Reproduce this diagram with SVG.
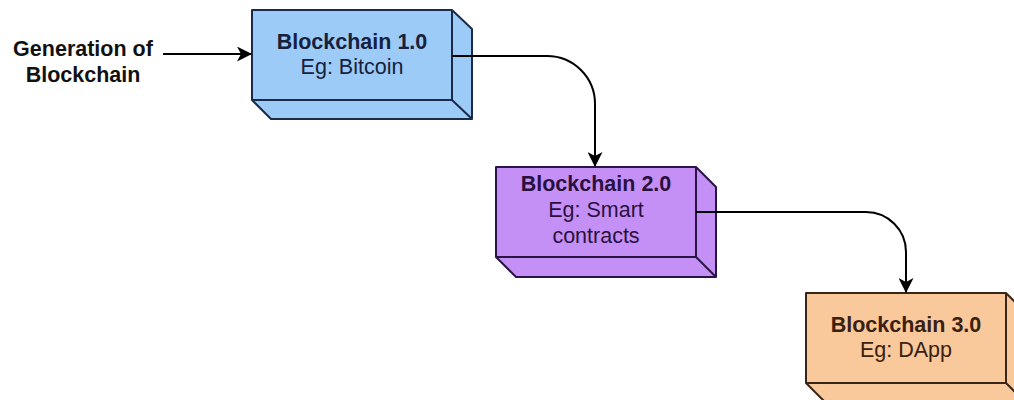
<svg xmlns="http://www.w3.org/2000/svg" width="1014" height="400" viewBox="0 0 1014 400">
  <style>
    text { font-family: "Liberation Sans", Arial, sans-serif; font-size: 21.5px; text-anchor: middle; }
    .b { font-weight: bold; }
    .edge { fill: none; stroke: #000; stroke-width: 2; }
    .box { stroke-width: 2; stroke-linejoin: round; }
  </style>
  <defs>
    <marker id="arr" viewBox="0 0 15 15" refX="14" refY="7.5" markerWidth="15" markerHeight="15" markerUnits="userSpaceOnUse" orient="auto">
      <path d="M0,0 L15,7.5 L0,15 L4,7.5 Z" fill="#000"/>
    </marker>
  </defs>
  <rect width="1014" height="400" fill="#fff"/>

  <g id="label-generation">
    <text class="b" x="83" y="56" fill="#111">Generation of</text>
    <text class="b" x="83" y="82" fill="#111">Blockchain</text>
  </g>

  <g id="node-bc1">
    <polygon class="box" points="252,10 452,10 472,29 472,119 271,119 252,100" fill="#9dcbf7" stroke="#1b2a48"/>
    <path class="box" d="M252,100 H452 V10 M452,100 L472,119" fill="none" stroke="#1b2a48"/>
    <text class="b" x="352" y="48.5" fill="#16213d">Blockchain 1.0</text>
    <text x="352" y="73.5" fill="#16213d">Eg: Bitcoin</text>
  </g>

  <g id="node-bc2">
    <polygon class="box" points="496,167 696,167 716,187 716,277 516,277 496,257" fill="#c590f5" stroke="#2a1446"/>
    <path class="box" d="M496,257 H696 V167 M696,257 L716,277" fill="none" stroke="#2a1446"/>
    <text class="b" x="596" y="191" fill="#2a1040">Blockchain 2.0</text>
    <text x="596" y="217" fill="#2a1040">Eg: Smart</text>
    <text x="596" y="243" fill="#2a1040">contracts</text>
  </g>

  <g id="node-bc3">
    <polygon class="box" points="806,293 1006,293 1026,313 1026,403 826,403 806,383" fill="#f9c89b" stroke="#3a2616"/>
    <path class="box" d="M806,383 H1006 V293 M1006,383 L1026,403" fill="none" stroke="#3a2616"/>
    <text class="b" x="906" y="332" fill="#3a2010">Blockchain 3.0</text>
    <text x="906" y="357" fill="#3a2010">Eg: DApp</text>
  </g>

  <g id="connectors">
    <path class="edge" d="M163,54 H251" marker-end="url(#arr)"/>
    <path class="edge" d="M452,56 H547 A48,48 0 0 1 595,104 V166" marker-end="url(#arr)"/>
    <path class="edge" d="M696,212 H866 A40,40 0 0 1 906,252 V292" marker-end="url(#arr)"/>
  </g>
</svg>
